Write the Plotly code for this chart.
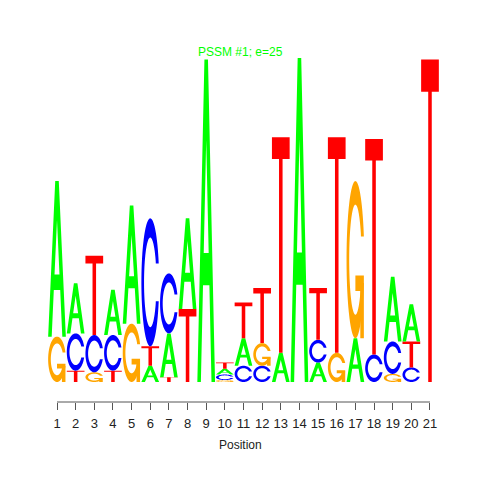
"""Sequence logo for PSSM #1 drawn with Plotly path shapes."""

import numpy as np
import plotly.graph_objects as go

POSITIONS = list(range(1, 22))
# information content (bits) of each base at each position
A_BITS = [0.96, 0.31, 0.00, 0.28, 0.73, 0.10, 0.27, 0.56, 1.99, 0.036, 0.17,
          0.00, 0.18, 2.00, 0.12, 0.00, 0.27, 0.00, 0.40, 0.23, 0.00]
C_BITS = [0.00, 0.23, 0.23, 0.22, 0.00, 0.79, 0.37, 0.00, 0.00, 0.034, 0.10,
          0.10, 0.00, 0.00, 0.14, 0.00, 0.00, 0.17, 0.20, 0.09, 0.00]
G_BITS = [0.28, 0.00, 0.06, 0.00, 0.36, 0.00, 0.00, 0.00, 0.00, 0.012, 0.00,
          0.14, 0.00, 0.00, 0.00, 0.18, 0.97, 0.00, 0.05, 0.00, 0.00]
T_BITS = [0.00, 0.07, 0.49, 0.07, 0.00, 0.12, 0.03, 0.45, 0.00, 0.038, 0.22,
          0.34, 1.33, 0.00, 0.32, 1.33, 0.00, 1.33, 0.00, 0.16, 1.99]

COLORS = {"A": "#00FF00", "C": "#0000FF", "G": "#FFA500", "T": "#FF0000"}
LETTER_WIDTH = 0.95


def _c_outline():
    a1 = np.linspace(0.3 + np.pi / 2, np.pi, 40)
    a2 = np.linspace(np.pi, 1.5 * np.pi, 40)
    xl = np.r_[0.5 + 0.5 * np.sin(a1), 0.5 + 0.5 * np.sin(a2)]
    yl = np.r_[0.5 + 0.5 * np.cos(a1), 0.5 + 0.5 * np.cos(a2)]
    x_out = np.r_[xl, xl[::-1]]
    y_out = np.r_[yl, 1 - yl[::-1]]
    h = (0.5 + 0.5 * np.cos(a1)).max()
    xi1 = 0.5 + 0.35 * np.sin(a1)
    yi1 = 0.5 + 0.35 * np.cos(a1)
    keep = yi1 <= h
    xi1, yi1 = xi1[keep], yi1[keep]
    yi1[0] = h
    xi = np.r_[xi1, 0.5 + 0.35 * np.sin(a2)]
    yi = np.r_[yi1, 0.5 + 0.35 * np.cos(a2)]
    x_in = np.r_[xi, xi[::-1]]
    y_in = np.r_[yi, 1 - yi[::-1]]
    xs = np.r_[x_out, x_in[::-1]]
    ys = np.r_[y_out, y_in[::-1]]
    return list(zip(xs, ys))


def _glyph(letter):
    """Return a list of paths; each path is a list of closed polygons in a unit box."""
    if letter == "A":
        outer = [(0, 0), (0.4, 1), (0.6, 1), (1, 0), (0.8, 0), (0.68, 0.3), (0.32, 0.3), (0.2, 0)]
        hole = [(0.36, 0.4), (0.5, 0.75), (0.64, 0.4)]
        return [[outer, hole]]
    if letter == "T":
        return [[[(0, 1), (1, 1), (1, 0.9), (0.6, 0.9), (0.6, 0), (0.4, 0), (0.4, 0.9), (0, 0.9)]]]
    c = _c_outline()
    if letter == "C":
        return [[c]]
    r1 = 0.5 + 0.5 * np.cos(0.3)
    bar = [(r1, 0.4), (0.5, 0.4), (0.5, 0.3), (r1 - 0.2, 0.3), (r1 - 0.2, 0), (r1, 0)]
    return [[c], [bar]]


def _path(polys, x0, y0, h):
    parts = []
    for poly in polys:
        pts = [(x0 + u * LETTER_WIDTH, y0 + v * h) for u, v in poly]
        parts.append("M" + "L".join(f"{x:.4f},{y:.5f}" for x, y in pts) + "Z")
    return "".join(parts)


fig = go.Figure()
shapes = []
for i, pos in enumerate(POSITIONS):
    stack = sorted(
        [("A", A_BITS[i]), ("C", C_BITS[i]), ("G", G_BITS[i]), ("T", T_BITS[i])],
        key=lambda t: t[1],
    )
    base = 0.0
    for letter, h in stack:
        if h <= 0:
            continue
        for polys in _glyph(letter):
            shapes.append(dict(
                type="path", xref="x", yref="y",
                path=_path(polys, pos - LETTER_WIDTH / 2, base, h),
                fillcolor=COLORS[letter], line=dict(width=0),
                fillrule="evenodd", layer="above",
            ))
        base += h

# R-style axis line spanning first to last tick only
shapes.append(dict(type="line", xref="x", yref="paper", x0=1, x1=21, y0=0, y1=0,
                   line=dict(color="#555555", width=1)))

# invisible trace so axes are drawn
fig.add_trace(go.Scatter(x=POSITIONS, y=[0] * 21, mode="markers",
                         marker=dict(opacity=0), hoverinfo="skip", showlegend=False))

# page body adds an 8px margin, so the figure is 472px and offsets are shifted
fig.update_layout(
    width=472, height=472,
    margin=dict(l=12, r=20, t=32, b=78),
    paper_bgcolor="white", plot_bgcolor="white",
    font=dict(family="Liberation Sans, Arial, sans-serif", size=12, color="#222222"),
    shapes=shapes,
    annotations=[
        dict(text="PSSM #1; e=25", x=0.5, y=0.967, xref="paper", yref="paper",
             showarrow=False, font=dict(color="#00FF00", size=12), yanchor="middle"),
        dict(text="Position", x=0.5, y=-0.119, xref="paper", yref="paper",
             showarrow=False, font=dict(size=12), yanchor="middle"),
    ],
)
fig.update_xaxes(range=[-0.984, 22.609], tickvals=POSITIONS, ticks="outside", ticklen=7,
                 tickcolor="#555555", showline=False, showgrid=False, zeroline=False,
                 tickfont=dict(size=13), ticklabelstandoff=2, fixedrange=True)
fig.update_yaxes(range=[-0.1235, 2.111], visible=False, fixedrange=True)

fig.write_html("out.html")
